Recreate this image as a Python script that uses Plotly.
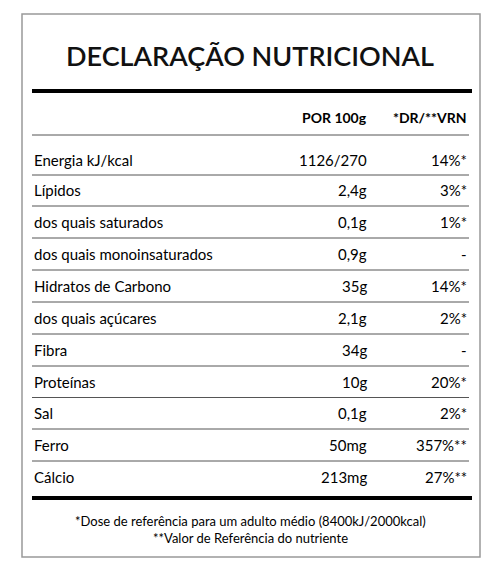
import plotly.graph_objects as go

title = "DECLARAÇÃO NUTRICIONAL"
headers = ["POR 100g", "*DR/**VRN"]
nutrients = ["Energia kJ/kcal", "Lípidos", "dos quais saturados", "dos quais monoinsaturados",
             "Hidratos de Carbono", "dos quais açúcares", "Fibra", "Proteínas", "Sal", "Ferro", "Cálcio"]
per100 = ["1126/270", "2,4g", "0,1g", "0,9g", "35g", "2,1g", "34g", "10g", "0,1g", "50mg", "213mg"]
dr = ["14%*", "3%*", "1%*", "-", "14%*", "2%*", "-", "20%*", "2%*", "357%**", "27%**"]
rowy = [160, 190, 222, 254, 286, 318, 350, 382, 413, 445, 477]
foot = ["*Dose de referência para um adulto médio (8400kJ/2000kcal)", "**Valor de Referência do nutriente"]

F = "Lato"
fig = go.Figure()
fig.add_trace(go.Scatter(x=[100], y=[100], mode="markers", marker=dict(opacity=0), hoverinfo="skip"))
shapes = [dict(type="rect", x0=22, x1=480, y0=14, y1=557, line=dict(color="#999", width=1.5)),
          dict(type="line", x0=32, x1=472, y0=91, y1=91, line=dict(color="black", width=4)),
          dict(type="line", x0=32, x1=472, y0=498, y1=498, line=dict(color="black", width=4)),
          dict(type="line", x0=32, x1=469, y0=135, y1=135, line=dict(color="#555", width=1))]
for i in range(len(rowy) - 1):
    y = (rowy[i] + rowy[i + 1]) / 2
    shapes.append(dict(type="line", x0=32, x1=469, y0=y, y1=y, line=dict(color="#555", width=1)))
ann = [dict(x=250, y=55, text=title, showarrow=False, font=dict(family="Lato Semibold, Lato", size=27, color="#111", weight=600))]
ann.append(dict(x=369, y=117, text="<b>" + headers[0] + "</b>", xanchor="right", showarrow=False,
                font=dict(family=F, size=14, color="black", weight=900)))
ann.append(dict(x=469, y=117, text="<b>" + headers[1] + "</b>", xanchor="right", showarrow=False,
                font=dict(family=F, size=14, color="black", weight=900)))
for n, a, b, y in zip(nutrients, per100, dr, rowy):
    ann.append(dict(x=32, y=y, text=n, xanchor="left", showarrow=False, font=dict(family=F, size=15, color="black")))
    ann.append(dict(x=369, y=y, text=a, xanchor="right", showarrow=False, font=dict(family=F, size=15, color="black")))
    ann.append(dict(x=469, y=y, text=b, xanchor="right", showarrow=False, font=dict(family=F, size=15, color="black")))
for t, y in zip(foot, [521, 538]):
    ann.append(dict(x=250, y=y, text=t, showarrow=False, font=dict(family=F, size=13, color="black")))
fig.update_layout(width=500, height=585, margin=dict(l=0, r=0, t=0, b=0), plot_bgcolor="white",
                  paper_bgcolor="white", showlegend=False, shapes=shapes, annotations=ann,
                  xaxis=dict(range=[8, 508], visible=False), yaxis=dict(range=[593, 8], visible=False))
fig.write_html("out.html")
